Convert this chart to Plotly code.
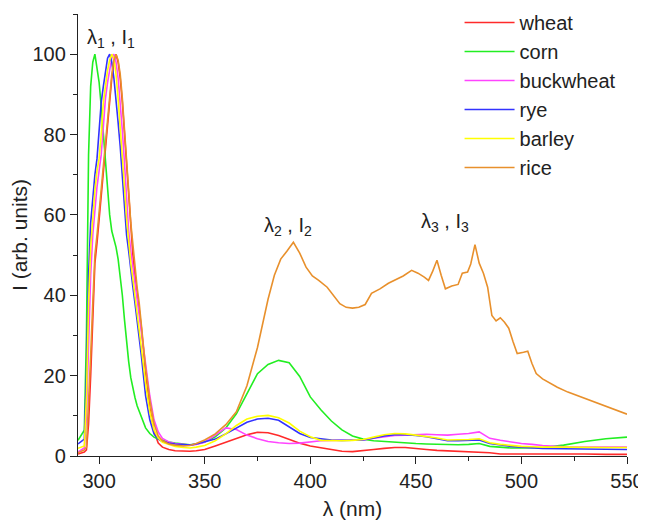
import plotly.graph_objects as go

# Shared wavelength grid (nm) for wheat, corn, buckwheat, rye, barley
wavelength = [290, 293, 294, 295, 296, 297, 298, 299, 300, 301, 302, 303, 304, 305,
              306, 307, 308, 309, 310, 311, 312, 313, 314, 315, 316, 317, 318, 319,
              320, 322, 324, 326, 328, 330, 333, 336, 340, 343, 346, 350, 355, 360,
              365, 370, 375, 380, 385, 390, 395, 400, 405, 410, 415, 420, 425, 430,
              435, 440, 445, 450, 455, 460, 465, 470, 475, 480, 485, 490, 495, 500,
              505, 510, 520, 530, 540, 550]

wheat = [0.5, 1.0, 1.5, 8, 20, 35, 48, 53, 59, 65, 71, 76, 83, 89,
         94, 98, 100, 98, 94, 88, 80, 73, 64, 56, 50, 45, 41, 37,
         32, 21, 12, 6, 3.2, 2.2, 1.6, 1.3, 1.2, 1.2, 1.3, 1.6, 2.5, 3.5,
         4.5, 5.3, 5.9, 5.8, 5.1, 4.2, 3.2, 2.5, 2.1, 1.6, 1.2, 1.1, 1.3, 1.6,
         1.9, 2.1, 2.1, 1.8, 1.6, 1.4, 1.3, 1.2, 1.1, 1.0, 0.8, 0.5, 0.5, 0.5,
         0.5, 0.6, 0.5, 0.5, 0.4, 0.4]

corn = [3.9, 6.4, 30, 75, 92, 98, 100, 97, 93, 87, 80, 73, 66, 60,
        56, 54, 52, 49, 45, 40, 34, 28, 23.5, 19.5, 16.5, 14.5, 12.5, 11,
        9.5, 7, 5.6, 4.7, 4.2, 3.9, 3.5, 3.2, 2.9, 2.8, 3.0, 3.5, 4.8, 7,
        10.5, 15.5, 20.5, 22.8, 23.8, 23.2, 19.8, 14.7, 11.5, 8.7, 6.5, 5.0, 4.2, 3.8,
        3.6, 3.4, 3.2, 3.1, 3.0, 2.9, 2.8, 2.8, 2.9, 3.1, 2.4, 2.2, 2.0, 2.0,
        2.0, 2.1, 2.7, 3.6, 4.3, 4.7]

buckwheat = [1.0, 2.0, 10, 28, 45, 55, 62, 67, 71, 75, 82, 89, 93, 96,
             99, 100, 98, 94, 88, 81, 73, 64, 56, 51, 47, 43, 39, 35,
             31, 23, 15, 9, 6, 4.4, 3.5, 3.1, 2.8, 2.7, 2.9, 3.4, 5.2, 7.0,
             6.6, 5.2, 4.3, 3.6, 3.3, 3.1, 3.2, 3.5, 3.8, 3.9, 3.9, 3.9, 4.0, 4.4,
             4.8, 5.1, 5.2, 5.3, 5.4, 5.3, 5.2, 5.4, 5.6, 6.0, 4.4, 3.9, 3.5, 3.1,
             2.9, 2.6, 2.3, 2.2, 2.2, 2.2]

rye = [3.0, 4.2, 20, 45, 58, 65, 70, 74, 82, 88, 92, 96, 99, 100,
       98, 94, 89, 83, 77, 69, 61, 55, 51, 46, 42, 38, 34, 30,
       25, 15, 9, 5.5, 4.2, 3.6, 3.2, 3.0, 2.8, 2.7, 3.0, 3.5, 4.2, 5.5,
       7, 8.4, 9.2, 9.4, 8.9, 7.3, 5.6, 4.6, 4.3, 4.0, 3.9, 3.9, 4.0, 4.5,
       5.0, 5.3, 5.3, 5.1, 4.8, 4.3, 3.8, 3.8, 3.9, 4.0, 3.1, 2.7, 2.4, 2.2,
       2.0, 1.9, 1.8, 1.7, 1.7, 1.6]

barley = [1.9, 2.5, 15, 38, 52, 60, 66, 71, 74, 80, 88, 92, 96, 98.5,
          100, 99, 95, 89, 82, 76, 67, 59, 53, 48, 44, 40, 36, 32,
          27, 18, 11, 6.5, 4.5, 3.4, 2.8, 2.4, 2.1, 2.0, 2.2, 2.6, 3.8, 5.5,
          7.6, 9.2, 9.9, 10.1, 9.5, 8.2, 6.2, 4.8, 3.9, 3.8, 3.8, 3.9, 4.1, 4.7,
          5.3, 5.6, 5.5, 5.2, 4.9, 4.5, 4.0, 4.0, 4.1, 4.3, 3.3, 2.9, 2.6, 2.4,
          2.3, 2.2, 2.2, 2.1, 2.1, 2.1]

# Rice has its own, finer grid in the jagged 440-510 nm region
wavelength_rice = [290, 293, 294, 295, 296, 297, 298, 299, 300, 301, 302, 303, 304, 305,
                   306, 307, 308, 309, 310, 311, 312, 313, 314, 315, 316, 317, 318, 319,
                   320, 322, 324, 326, 328, 330, 333, 336, 340, 343, 346, 350, 355, 360,
                   365, 370, 375, 378, 380, 383, 386, 389, 392, 395, 398, 401, 404, 408,
                   411, 414, 417, 420, 423, 426, 429, 433, 437, 440, 444, 448, 451, 454,
                   456, 458, 460, 462, 464, 467, 470, 472, 474.5, 476, 478, 480, 482, 484,
                   486, 488, 490, 492, 494, 496, 498, 501, 503, 505, 507, 510, 513, 517,
                   522, 527, 532, 537, 541, 546, 550]

rice = [0.8, 1.5, 2.2, 12, 25, 38, 50, 55, 61, 67, 73, 78, 85, 90,
        95, 98.5, 100, 98.5, 95, 89, 82, 74, 66, 58, 52, 47, 42, 38,
        33, 22, 14, 8, 5, 3.8, 3.0, 2.7, 2.5, 2.6, 3.1, 4.0, 5.5, 7.8,
        11, 17.5, 27, 34, 39, 45, 49, 51, 53.2, 50.5, 47, 44.8, 43.7, 42,
        40, 37.9, 37, 36.8, 37, 37.7, 40.5, 41.6, 43, 43.8, 44.8, 46.2, 45.5, 44.5,
        43.7, 46, 48.7, 45, 41.6, 42.3, 42.7, 45.5, 45.8, 47.8, 52.6, 48, 45.5, 42,
        35, 33.6, 34.4, 33.3, 31.8, 28.5, 25.5, 25.8, 26.1, 23, 20.5, 19.2, 18.3, 17.1,
        15.9, 14.9, 13.9, 13, 12.2, 11.2, 10.4]

series_names = ["wheat", "corn", "buckwheat", "rye", "barley", "rice"]
colors = ["#ff2a2a", "#22ee22", "#ff44ff", "#3333ff", "#ffff00", "#e8902c"]

fig = go.Figure()
data = [(wavelength, wheat), (wavelength, corn), (wavelength, buckwheat),
        (wavelength, rye), (wavelength, barley), (wavelength_rice, rice)]
for (xs, ys), name, col in zip(data, series_names, colors):
    fig.add_trace(go.Scatter(x=xs, y=ys, mode="lines", name=name,
                             line=dict(color=col, width=1.6)))

font_family = "Liberation Sans, Arial, sans-serif"
txt = "#222"
axis_common = dict(showline=True, linecolor=txt, linewidth=1.3, showgrid=False,
                   zeroline=False, ticks="outside", ticklen=7, tickwidth=1.3,
                   tickcolor=txt, mirror=False, automargin=True,
                   tickfont=dict(family=font_family, size=20, color=txt))

fig.update_xaxes(range=[290, 550], tick0=300, dtick=50,
                 minor=dict(ticks="outside", ticklen=4, tickwidth=1.2, tickcolor=txt,
                            dtick=25, tick0=275),
                 title=dict(text="λ (nm)", font=dict(family=font_family, size=21, color=txt),
                            standoff=10),
                 **axis_common)
fig.update_yaxes(range=[0, 110], tick0=0, dtick=20,
                 minor=dict(ticks="outside", ticklen=4, tickwidth=1.2, tickcolor=txt,
                            dtick=10),
                 title=dict(text="I (arb. units)", font=dict(family=font_family, size=21, color=txt),
                            standoff=4),
                 **axis_common)

ann_font = dict(family=font_family, size=20, color=txt)
fig.add_annotation(x=305.7, y=104, text="λ<sub>1</sub> , I<sub>1</sub>", showarrow=False, font=ann_font)
fig.add_annotation(x=389.5, y=57, text="λ<sub>2</sub> , I<sub>2</sub>", showarrow=False, font=ann_font)
fig.add_annotation(x=464, y=58, text="λ<sub>3</sub> , I<sub>3</sub>", showarrow=False, font=ann_font)

# The page adds an 8 px body margin, so the figure is 8 px smaller and margins shifted
fig.update_layout(
    width=638, height=515,
    margin=dict(l=70, r=19, t=6, b=67, autoexpand=False),
    paper_bgcolor="white", plot_bgcolor="white",
    font=dict(family=font_family, color=txt),
    legend=dict(x=0.695, y=1.025, xanchor="left", yanchor="top",
                bgcolor="rgba(0,0,0,0)", font=dict(family=font_family, size=20, color=txt),
                itemwidth=50),
    showlegend=True,
)

fig.write_html("out.html")
